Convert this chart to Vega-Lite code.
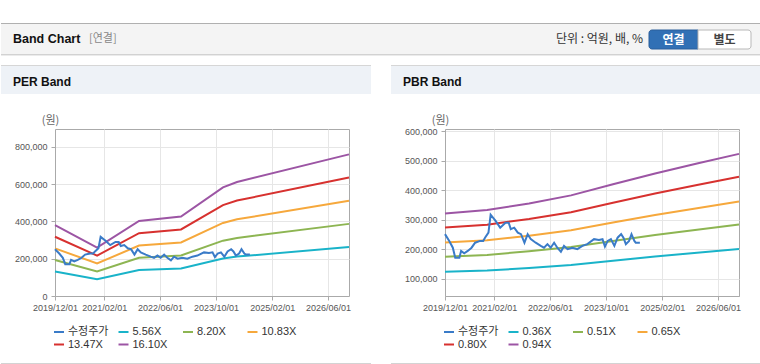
{
  "$schema": "https://vega.github.io/schema/vega-lite/v6.json",
  "padding": 0,
  "background": "#ffffff",
  "bounds": "flush",
  "spacing": 96,
  "config": {
    "view": {"stroke": "#aaaaaa", "strokeWidth": 1},
    "axis": {"labelFont": "Liberation Sans", "labelFontSize": 9, "labelColor": "#555555", "domainColor": "#aaaaaa", "tickColor": "#aaaaaa", "gridColor": "#e6e6e6", "tickSize": 4}
  },
  "datasets": {
    "price": [
      {"date": "2019-12-01", "value": 251000}, {"date": "2020-01-07", "value": 228000}, {"date": "2020-02-07", "value": 205000}, {"date": "2020-02-28", "value": 171000},
      {"date": "2020-04-04", "value": 171000}, {"date": "2020-04-19", "value": 194000}, {"date": "2020-05-16", "value": 186000}, {"date": "2020-06-16", "value": 194000},
      {"date": "2020-07-19", "value": 205000}, {"date": "2020-08-19", "value": 222000}, {"date": "2020-10-01", "value": 228000}, {"date": "2020-10-28", "value": 228000},
      {"date": "2020-11-13", "value": 239000}, {"date": "2020-12-13", "value": 256000}, {"date": "2021-01-01", "value": 317000}, {"date": "2021-02-13", "value": 296000},
      {"date": "2021-03-25", "value": 273000}, {"date": "2021-05-10", "value": 290000}, {"date": "2021-06-07", "value": 290000}, {"date": "2021-06-25", "value": 268000},
      {"date": "2021-07-25", "value": 273000}, {"date": "2021-08-25", "value": 256000}, {"date": "2021-09-22", "value": 251000}, {"date": "2021-10-22", "value": 222000},
      {"date": "2021-11-19", "value": 251000}, {"date": "2021-12-16", "value": 234000}, {"date": "2022-01-28", "value": 222000}, {"date": "2022-03-13", "value": 211000},
      {"date": "2022-04-10", "value": 205000}, {"date": "2022-05-10", "value": 217000}, {"date": "2022-06-07", "value": 205000}, {"date": "2022-07-07", "value": 222000},
      {"date": "2022-08-04", "value": 205000}, {"date": "2022-09-04", "value": 191000}, {"date": "2022-10-01", "value": 211000}, {"date": "2022-11-01", "value": 200000},
      {"date": "2022-12-13", "value": 205000}, {"date": "2023-01-25", "value": 200000}, {"date": "2023-03-10", "value": 211000}, {"date": "2023-04-22", "value": 217000},
      {"date": "2023-06-19", "value": 234000}, {"date": "2023-08-01", "value": 231000}, {"date": "2023-09-01", "value": 234000}, {"date": "2023-09-22", "value": 209000},
      {"date": "2023-10-16", "value": 228000}, {"date": "2023-11-13", "value": 234000}, {"date": "2023-12-13", "value": 211000}, {"date": "2024-01-10", "value": 239000},
      {"date": "2024-02-10", "value": 251000}, {"date": "2024-03-01", "value": 239000}, {"date": "2024-03-22", "value": 217000}, {"date": "2024-04-19", "value": 228000},
      {"date": "2024-05-10", "value": 251000}, {"date": "2024-06-04", "value": 228000}, {"date": "2024-06-16", "value": 222000}, {"date": "2024-07-22", "value": 222000}
    ],
    "per": [
      {"date": "2019-12-01", "series": "5.56X", "value": 131200}, {"date": "2020-12-01", "series": "5.56X", "value": 89500}, {"date": "2021-12-01", "series": "5.56X", "value": 139000}, {"date": "2022-12-01", "series": "5.56X", "value": 147300}, {"date": "2023-12-01", "series": "5.56X", "value": 201300}, {"date": "2024-04-01", "series": "5.56X", "value": 211300}, {"date": "2026-12-01", "series": "5.56X", "value": 262400},
      {"date": "2019-12-01", "series": "8.20X", "value": 193500}, {"date": "2020-12-01", "series": "8.20X", "value": 132000}, {"date": "2021-12-01", "series": "8.20X", "value": 205000}, {"date": "2022-12-01", "series": "8.20X", "value": 217300}, {"date": "2023-12-01", "series": "8.20X", "value": 296800}, {"date": "2024-04-01", "series": "8.20X", "value": 311600}, {"date": "2026-12-01", "series": "8.20X", "value": 387000},
      {"date": "2019-12-01", "series": "10.83X", "value": 255600}, {"date": "2020-12-01", "series": "10.83X", "value": 174400}, {"date": "2021-12-01", "series": "10.83X", "value": 270800}, {"date": "2022-12-01", "series": "10.83X", "value": 287000}, {"date": "2023-12-01", "series": "10.83X", "value": 392000}, {"date": "2024-04-01", "series": "10.83X", "value": 411500}, {"date": "2026-12-01", "series": "10.83X", "value": 511200},
      {"date": "2019-12-01", "series": "13.47X", "value": 317900}, {"date": "2020-12-01", "series": "13.47X", "value": 216900}, {"date": "2021-12-01", "series": "13.47X", "value": 336800}, {"date": "2022-12-01", "series": "13.47X", "value": 357000}, {"date": "2023-12-01", "series": "13.47X", "value": 487600}, {"date": "2024-04-01", "series": "13.47X", "value": 511900}, {"date": "2026-12-01", "series": "13.47X", "value": 635800},
      {"date": "2019-12-01", "series": "16.10X", "value": 380000}, {"date": "2020-12-01", "series": "16.10X", "value": 259200}, {"date": "2021-12-01", "series": "16.10X", "value": 402500}, {"date": "2022-12-01", "series": "16.10X", "value": 426700}, {"date": "2023-12-01", "series": "16.10X", "value": 582800}, {"date": "2024-04-01", "series": "16.10X", "value": 611800}, {"date": "2026-12-01", "series": "16.10X", "value": 759900}
    ],
    "pbr": [
      {"date": "2019-12-01", "series": "0.36X", "value": 123100}, {"date": "2020-12-01", "series": "0.36X", "value": 127400}, {"date": "2021-12-01", "series": "0.36X", "value": 136100}, {"date": "2022-12-01", "series": "0.36X", "value": 146500}, {"date": "2023-12-01", "series": "0.36X", "value": 160900}, {"date": "2024-12-01", "series": "0.36X", "value": 175000}, {"date": "2025-12-01", "series": "0.36X", "value": 187900}, {"date": "2026-12-01", "series": "0.36X", "value": 200500},
      {"date": "2019-12-01", "series": "0.51X", "value": 174400}, {"date": "2020-12-01", "series": "0.51X", "value": 180500}, {"date": "2021-12-01", "series": "0.51X", "value": 192800}, {"date": "2022-12-01", "series": "0.51X", "value": 207600}, {"date": "2023-12-01", "series": "0.51X", "value": 228000}, {"date": "2024-12-01", "series": "0.51X", "value": 247900}, {"date": "2025-12-01", "series": "0.51X", "value": 266200}, {"date": "2026-12-01", "series": "0.51X", "value": 284100},
      {"date": "2019-12-01", "series": "0.65X", "value": 222300}, {"date": "2020-12-01", "series": "0.65X", "value": 230100}, {"date": "2021-12-01", "series": "0.65X", "value": 245700}, {"date": "2022-12-01", "series": "0.65X", "value": 264600}, {"date": "2023-12-01", "series": "0.65X", "value": 290600}, {"date": "2024-12-01", "series": "0.65X", "value": 315900}, {"date": "2025-12-01", "series": "0.65X", "value": 339300}, {"date": "2026-12-01", "series": "0.65X", "value": 362100},
      {"date": "2019-12-01", "series": "0.80X", "value": 273600}, {"date": "2020-12-01", "series": "0.80X", "value": 283200}, {"date": "2021-12-01", "series": "0.80X", "value": 302400}, {"date": "2022-12-01", "series": "0.80X", "value": 325600}, {"date": "2023-12-01", "series": "0.80X", "value": 357600}, {"date": "2024-12-01", "series": "0.80X", "value": 388800}, {"date": "2025-12-01", "series": "0.80X", "value": 417600}, {"date": "2026-12-01", "series": "0.80X", "value": 445600},
      {"date": "2019-12-01", "series": "0.94X", "value": 321500}, {"date": "2020-12-01", "series": "0.94X", "value": 332800}, {"date": "2021-12-01", "series": "0.94X", "value": 355300}, {"date": "2022-12-01", "series": "0.94X", "value": 382600}, {"date": "2023-12-01", "series": "0.94X", "value": 420200}, {"date": "2024-12-01", "series": "0.94X", "value": 456800}, {"date": "2025-12-01", "series": "0.94X", "value": 490700}, {"date": "2026-12-01", "series": "0.94X", "value": 523600}
    ]
  },
  "resolve": {"scale": {"x": "independent", "y": "independent", "color": "independent"}, "legend": {"color": "independent"}},
  "hconcat": [
    {
      "width": 294,
      "height": 167,
      "layer": [
        {"data": {"values": [{}]}, "mark": {"type": "rect", "fill": "#ffffff", "fillOpacity": 0}, "encoding": {"x": {"value": -54}, "x2": {"value": 706}, "y": {"value": -128}, "y2": {"value": 236}}},
        {"data": {"values": [{}]}, "mark": {"type": "rect", "fill": "#f4f4f4"}, "encoding": {"x": {"value": -54}, "x2": {"value": 706}, "y": {"value": -106}, "y2": {"value": -75}}},
        {"data": {"values": [{}]}, "mark": {"type": "rule", "color": "#b0b0b0"}, "encoding": {"x": {"value": -54}, "x2": {"value": 706}, "y": {"value": -105.5}}},
        {"data": {"values": [{}]}, "mark": {"type": "rule", "color": "#d2d2d2"}, "encoding": {"x": {"value": -54}, "x2": {"value": 706}, "y": {"value": -74.5}}},
        {"data": {"values": [{}]}, "mark": {"type": "rule", "color": "#ebebeb"}, "encoding": {"x": {"value": -54}, "x2": {"value": 706}, "y": {"value": -73.5}}},
        {"data": {"values": [{}]}, "mark": {"type": "text", "align": "left", "baseline": "middle", "font": "Liberation Sans", "fontSize": 12.5, "fontWeight": "bold", "color": "#111111"}, "encoding": {"x": {"value": -42}, "y": {"value": -90}, "text": {"value": "Band Chart"}}},
        {"data": {"values": [{}]}, "mark": {"type": "text", "align": "left", "baseline": "middle", "font": "Noto Sans CJK KR", "fontSize": 11, "color": "#888888"}, "encoding": {"x": {"value": 34}, "y": {"value": -90}, "text": {"value": "[연결]"}}},
        {"data": {"values": [{}]}, "mark": {"type": "text", "align": "right", "baseline": "middle", "font": "Noto Sans CJK KR", "fontSize": 12, "color": "#333333"}, "encoding": {"x": {"value": 588}, "y": {"value": -90}, "text": {"value": "단위 : 억원, 배, %"}}},
        {"data": {"values": [{}]}, "mark": {"type": "rect", "fill": "#3170b5", "stroke": "#2a5e9b", "strokeWidth": 1, "cornerRadiusTopLeft": 3, "cornerRadiusBottomLeft": 3}, "encoding": {"x": {"value": 594}, "x2": {"value": 643}, "y": {"value": -99}, "y2": {"value": -80}}},
        {"data": {"values": [{}]}, "mark": {"type": "rect", "fill": "#ffffff", "stroke": "#b8b8b8", "strokeWidth": 1, "cornerRadiusTopRight": 3, "cornerRadiusBottomRight": 3}, "encoding": {"x": {"value": 643}, "x2": {"value": 696}, "y": {"value": -99}, "y2": {"value": -80}}},
        {"data": {"values": [{}]}, "mark": {"type": "text", "align": "center", "baseline": "middle", "font": "Noto Sans CJK KR", "fontSize": 12, "fontWeight": "bold", "color": "#ffffff"}, "encoding": {"x": {"value": 618.5}, "y": {"value": -89.5}, "text": {"value": "연결"}}},
        {"data": {"values": [{}]}, "mark": {"type": "text", "align": "center", "baseline": "middle", "font": "Noto Sans CJK KR", "fontSize": 12, "fontWeight": "bold", "color": "#444444"}, "encoding": {"x": {"value": 669.5}, "y": {"value": -89.5}, "text": {"value": "별도"}}},
        {"data": {"values": [{}]}, "mark": {"type": "rect", "fill": "#eef2f7"}, "encoding": {"x": {"value": -54}, "x2": {"value": 316}, "y": {"value": -64}, "y2": {"value": -35}}},
        {"data": {"values": [{}]}, "mark": {"type": "rule", "color": "#d6d6d6"}, "encoding": {"x": {"value": -54}, "x2": {"value": 316}, "y": {"value": -63.5}}},
        {"data": {"values": [{}]}, "mark": {"type": "text", "align": "left", "baseline": "middle", "font": "Liberation Sans", "fontSize": 12, "fontWeight": "bold", "color": "#111111"}, "encoding": {"x": {"value": -42}, "y": {"value": -47.5}, "text": {"value": "PER Band"}}},
        {"data": {"values": [{}]}, "mark": {"type": "rule", "color": "#d3d3d3"}, "encoding": {"x": {"value": -54}, "x2": {"value": 316}, "y": {"value": 234.5}}},
        {
          "data": {"name": "per"},
          "mark": {"type": "line", "strokeWidth": 2},
          "encoding": {
            "x": {"field": "date", "type": "temporal", "scale": {"domain": [{"year": 2019, "month": 12, "date": 1}, {"year": 2026, "month": 12, "date": 1}]},
              "axis": {"values": [{"year": 2019, "month": 12, "date": 1}, {"year": 2021, "month": 2, "date": 1}, {"year": 2022, "month": 6, "date": 1}, {"year": 2023, "month": 10, "date": 1}, {"year": 2025, "month": 2, "date": 1}, {"year": 2026, "month": 6, "date": 1}], "tickCount": 12, "format": "%Y/%m/%d", "title": null, "labelFlush": false, "labelOverlap": false, "labelPadding": 3, "grid": true}},
            "y": {"field": "value", "type": "quantitative", "scale": {"domain": [0, 896000], "nice": false, "zero": false},
              "axis": {"values": [0, 200000, 400000, 600000, 800000], "tickCount": 12, "format": ",.0f", "title": "(원)", "titleAngle": 0, "titleX": -5, "titleY": -9, "titleAlign": "center", "titleBaseline": "middle", "titleFont": "Noto Sans CJK KR", "titleFontSize": 11, "titleFontWeight": "normal", "titleColor": "#666666", "labelPadding": 4, "grid": true, "labelFlush": false, "labelOverlap": false}},
            "color": {"field": "series", "type": "nominal",
              "scale": {"domain": ["수정주가", "5.56X", "8.20X", "10.83X", "13.47X", "16.10X"], "range": ["#3a7bc8", "#19b3c9", "#8db552", "#f6a83c", "#d7312f", "#9c55a4"]},
              "legend": {"title": null, "orient": "none", "legendX": -2, "legendY": 197, "direction": "horizontal", "columns": 4, "gridAlign": "all", "columnPadding": 5.5, "rowPadding": 1.5, "symbolType": "stroke", "symbolSize": 100, "symbolStrokeWidth": 2, "labelFont": "Liberation Sans, Noto Sans CJK KR", "labelFontSize": 11, "labelColor": "#333333", "labelOffset": 3, "padding": 0, "labelLimit": 200}}
          }
        },
        {
          "data": {"name": "price"},
          "mark": {"type": "line", "strokeWidth": 2},
          "encoding": {
            "x": {"field": "date", "type": "temporal", "scale": {"domain": [{"year": 2019, "month": 12, "date": 1}, {"year": 2026, "month": 12, "date": 1}]}},
            "y": {"field": "value", "type": "quantitative", "scale": {"domain": [0, 896000], "nice": false, "zero": false}},
            "color": {"datum": "수정주가", "type": "nominal"}
          }
        }
      ]
    },
    {
      "width": 294,
      "height": 167,
      "layer": [
        {"data": {"values": [{}]}, "mark": {"type": "rect", "fill": "#eef2f7"}, "encoding": {"x": {"value": -54}, "x2": {"value": 316}, "y": {"value": -64}, "y2": {"value": -35}}},
        {"data": {"values": [{}]}, "mark": {"type": "rule", "color": "#d6d6d6"}, "encoding": {"x": {"value": -54}, "x2": {"value": 316}, "y": {"value": -63.5}}},
        {"data": {"values": [{}]}, "mark": {"type": "text", "align": "left", "baseline": "middle", "font": "Liberation Sans", "fontSize": 12, "fontWeight": "bold", "color": "#111111"}, "encoding": {"x": {"value": -42}, "y": {"value": -47.5}, "text": {"value": "PBR Band"}}},
        {"data": {"values": [{}]}, "mark": {"type": "rule", "color": "#d3d3d3"}, "encoding": {"x": {"value": -54}, "x2": {"value": 316}, "y": {"value": 234.5}}},
        {
          "data": {"name": "pbr"},
          "mark": {"type": "line", "strokeWidth": 2},
          "encoding": {
            "x": {"field": "date", "type": "temporal", "scale": {"domain": [{"year": 2019, "month": 12, "date": 1}, {"year": 2026, "month": 12, "date": 1}]},
              "axis": {"values": [{"year": 2019, "month": 12, "date": 1}, {"year": 2021, "month": 2, "date": 1}, {"year": 2022, "month": 6, "date": 1}, {"year": 2023, "month": 10, "date": 1}, {"year": 2025, "month": 2, "date": 1}, {"year": 2026, "month": 6, "date": 1}], "tickCount": 12, "format": "%Y/%m/%d", "title": null, "labelFlush": false, "labelOverlap": false, "labelPadding": 3, "grid": true}},
            "y": {"field": "value", "type": "quantitative", "scale": {"domain": [41000, 608000], "nice": false, "zero": false},
              "axis": {"values": [100000, 200000, 300000, 400000, 500000, 600000], "tickCount": 12, "format": ",.0f", "title": "(원)", "titleAngle": 0, "titleX": -5, "titleY": -9, "titleAlign": "center", "titleBaseline": "middle", "titleFont": "Noto Sans CJK KR", "titleFontSize": 11, "titleFontWeight": "normal", "titleColor": "#666666", "labelPadding": 4, "grid": true, "labelFlush": false, "labelOverlap": false}},
            "color": {"field": "series", "type": "nominal",
              "scale": {"domain": ["수정주가", "0.36X", "0.51X", "0.65X", "0.80X", "0.94X"], "range": ["#3a7bc8", "#19b3c9", "#8db552", "#f6a83c", "#d7312f", "#9c55a4"]},
              "legend": {"title": null, "orient": "none", "legendX": -2, "legendY": 197, "direction": "horizontal", "columns": 4, "gridAlign": "all", "columnPadding": 5.5, "rowPadding": 1.5, "symbolType": "stroke", "symbolSize": 100, "symbolStrokeWidth": 2, "labelFont": "Liberation Sans, Noto Sans CJK KR", "labelFontSize": 11, "labelColor": "#333333", "labelOffset": 3, "padding": 0, "labelLimit": 200}}
          }
        },
        {
          "data": {"name": "price"},
          "mark": {"type": "line", "strokeWidth": 2},
          "encoding": {
            "x": {"field": "date", "type": "temporal", "scale": {"domain": [{"year": 2019, "month": 12, "date": 1}, {"year": 2026, "month": 12, "date": 1}]}},
            "y": {"field": "value", "type": "quantitative", "scale": {"domain": [41000, 608000], "nice": false, "zero": false}},
            "color": {"datum": "수정주가", "type": "nominal"}
          }
        }
      ]
    }
  ]
}
